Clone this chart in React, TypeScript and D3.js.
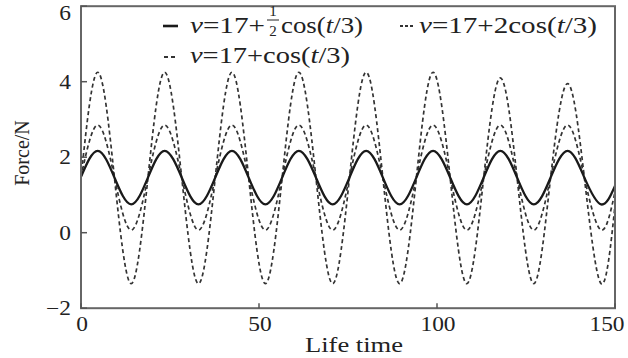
import React from "react";
import * as d3 from "d3";

// Life time sample points (peaks, troughs and mean crossings)
const lifeTime = [0, 4.7, 9.4, 14.1, 18.8, 23.5, 28.3, 33.0, 37.7, 42.4, 47.1, 51.8, 56.5, 61.2, 66.0, 70.7, 75.4, 80.1, 84.8, 89.5, 94.2, 98.9, 103.7, 108.4, 113.1, 117.8, 122.5, 127.2, 131.9, 136.7, 141.4, 146.1, 150];

// v = 17 + 1/2 cos(t/3)
const forceHalf = [1.48, 2.17, 1.46, 0.75, 1.46, 2.17, 1.46, 0.75, 1.46, 2.17, 1.46, 0.75, 1.46, 2.17, 1.46, 0.75, 1.46, 2.17, 1.46, 0.75, 1.46, 2.17, 1.46, 0.75, 1.46, 2.17, 1.46, 0.75, 1.46, 2.17, 1.46, 0.75, 1.24];
// v = 17 + cos(t/3)
const forceOne = [1.48, 2.85, 1.46, 0.07, 1.46, 2.85, 1.46, 0.07, 1.46, 2.85, 1.46, 0.07, 1.46, 2.85, 1.46, 0.07, 1.46, 2.85, 1.46, 0.07, 1.46, 2.85, 1.46, 0.07, 1.46, 2.85, 1.46, 0.07, 1.46, 2.85, 1.46, 0.07, 1.08];
// v = 17 + 2cos(t/3)
const forceTwo = [1.45, 4.25, 1.45, -1.35, 1.45, 4.25, 1.45, -1.35, 1.45, 4.25, 1.45, -1.35, 1.45, 4.25, 1.45, -1.35, 1.45, 4.25, 1.45, -1.35, 1.45, 4.25, 1.45, -1.35, 1.45, 4.1, 1.45, -1.35, 1.45, 3.95, 1.45, -1.35, 0.72];

const xTicks = [0, 50, 100, 150];
const yTicks = [-2, 0, 2, 4, 6];

const FONT = "'Liberation Serif', 'Times New Roman', serif";
const SX = 1.17;

function ST({ x, y, anchor = "start", size = 20, children, fill = "#222" }: any) {
  return (
    <text
      transform={`translate(${x},${y}) scale(${SX},1)`}
      textAnchor={anchor}
      fontSize={size}
      fontFamily={FONT}
      fill={fill}
    >
      {children}
    </text>
  );
}

function LT({ x, y, len, size = 23, children }: any) {
  return (
    <text
      x={x}
      y={y}
      textLength={len}
      lengthAdjust="spacingAndGlyphs"
      fontSize={size}
      fontFamily={FONT}
      fill="#222"
    >
      {children}
    </text>
  );
}

export default function App() {
  const x = d3.scaleLinear().domain([0, 150]).range([81, 615]);
  const y = d3.scaleLinear().domain([-2, 6]).range([308.2, 6.2]);
  const mk = (vals: number[]) =>
    d3
      .line<number>()
      .x((_, i) => x(lifeTime[i]))
      .y((d) => y(d))
      .curve(d3.curveNatural)(vals) as string;

  const [x0, x1] = x.range();
  const [yb, yt] = y.range();

  const xLabelX = (t: number) => (t === 150 ? x(t) - 8 : x(t) + 1);
  const yLabelY = (t: number) => (t === 6 ? 20 : y(t) + 7);

  return (
    <svg
      width={628}
      height={358}
      style={{ position: "absolute", left: 0, top: 0, background: "#fff" }}
    >
      <defs>
        <clipPath id="plot">
          <rect x={x0} y={yt} width={x1 - x0} height={yb - yt} />
        </clipPath>
      </defs>
      <rect width={628} height={358} fill="#fff" />

      <g clipPath="url(#plot)">
        <path d={mk(forceTwo)} fill="none" stroke="#333" strokeWidth={1.7} strokeDasharray="4 3" />
        <path d={mk(forceOne)} fill="none" stroke="#333" strokeWidth={1.7} strokeDasharray="4 3" />
        <path d={mk(forceHalf)} fill="none" stroke="#1a1a1a" strokeWidth={2.3} />
      </g>

      {/* frame */}
      <rect x={x0} y={yt} width={x1 - x0} height={yb - yt} fill="none" stroke="#666" strokeWidth={2} />

      {/* ticks */}
      {xTicks.map((t) => (
        <g key={"x" + t}>
          <line x1={x(t)} x2={x(t)} y1={yb} y2={yb - 5} stroke="#555" strokeWidth={1.5} />
          <ST x={xLabelX(t)} y={331} anchor="middle">{t}</ST>
        </g>
      ))}
      {yTicks.map((t) => (
        <g key={"y" + t}>
          <line x1={x0} x2={x0 + 6} y1={y(t)} y2={y(t)} stroke="#555" strokeWidth={1.5} />
          <ST x={71} y={yLabelY(t)} anchor="end">{t < 0 ? "\u2212" + Math.abs(t) : t}</ST>
        </g>
      ))}

      {/* axis titles */}
      <text
        x={305}
        y={352}
        textLength={98}
        lengthAdjust="spacingAndGlyphs"
        fontSize={21}
        fontFamily={FONT}
        fill="#222"
      >
        Life time
      </text>
      <text
        transform="translate(29,153) rotate(-90)"
        textAnchor="middle"
        fontSize={20}
        fontFamily={FONT}
        fill="#222"
      >
        Force/N
      </text>

      {/* legend */}
      <line x1={163} x2={178} y1={26} y2={26} stroke="#1a1a1a" strokeWidth={2.6} />
      <LT x={190} y={33} len={75}>
        <tspan fontStyle="italic">v</tspan>=17+
      </LT>
      <text x={273} y={16} textAnchor="middle" fontSize={15} fontFamily={FONT} fill="#222">1</text>
      <line x1={267} x2={279} y1={20} y2={20} stroke="#222" strokeWidth={1} />
      <text x={273} y={36} textAnchor="middle" fontSize={15} fontFamily={FONT} fill="#222">2</text>
      <LT x={281} y={33} len={82}>
        cos(<tspan fontStyle="italic">t</tspan>/3)
      </LT>

      <line x1={400} x2={415} y1={26} y2={26} stroke="#333" strokeWidth={1.8} strokeDasharray="3 2" />
      <LT x={419} y={33} len={178}>
        <tspan fontStyle="italic">v</tspan>=17+2cos(<tspan fontStyle="italic">t</tspan>/3)
      </LT>

      <line x1={164} x2={178} y1={57} y2={57} stroke="#333" strokeWidth={1.8} strokeDasharray="4 3" />
      <LT x={190} y={63} len={160}>
        <tspan fontStyle="italic">v</tspan>=17+cos(<tspan fontStyle="italic">t</tspan>/3)
      </LT>
    </svg>
  );
}
